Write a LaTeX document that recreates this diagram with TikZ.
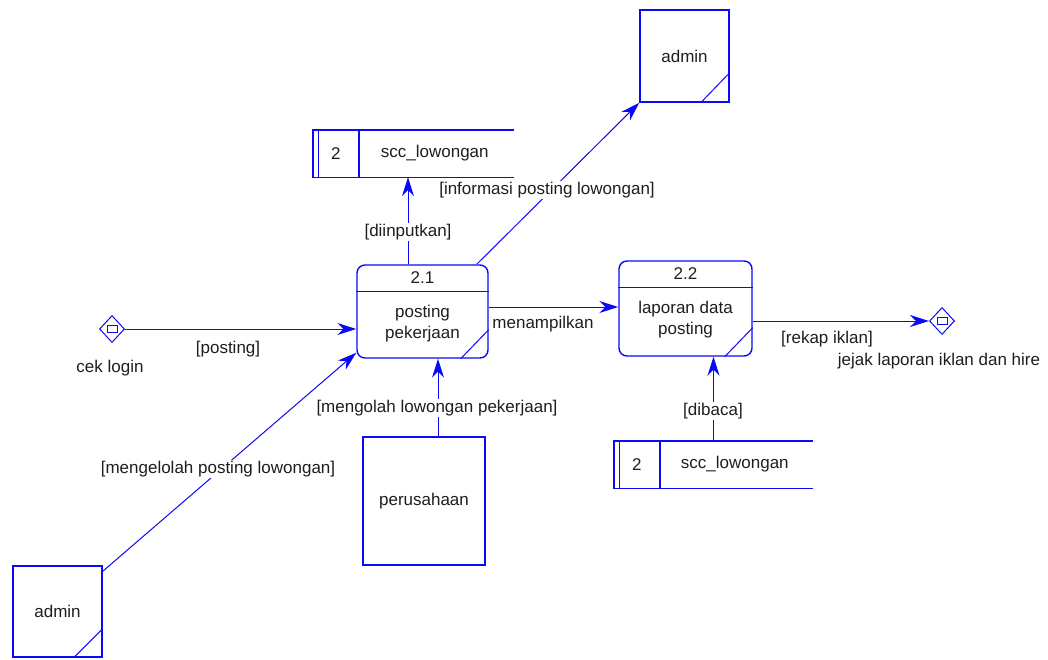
\documentclass[tikz,border=0pt]{standalone}
\usepackage{fontspec}
\setmainfont{Liberation Sans}
\usetikzlibrary{shapes.geometric,arrows.meta}
\definecolor{dfdblue}{RGB}{10,10,245}
\definecolor{dfdtext}{RGB}{30,30,30}

\begin{document}
\begin{tikzpicture}[x=1pt,y=-1pt,font=\fontsize{17}{21}\selectfont,text=dfdtext,
    entity/.style={draw=dfdblue,line width=1.4pt,inner sep=0pt},
    proc/.style={draw=dfdblue,line width=1.4pt,rounded corners=8pt,inner sep=0pt},
    border/.style={dfdblue,line width=1.4pt},
    flow/.style={dfdblue,line width=1pt,-{Stealth[length=19pt,width=12pt,inset=6pt,line width=1.2pt]}},
    lbl/.style={fill=white,inner sep=1pt},
    term/.style={diamond,draw=dfdblue,line width=1pt,minimum width=25pt,minimum height=27pt,inner sep=0pt}]
    \useasboundingbox (0,0) rectangle (1048,659);

    % entities
    \node[entity,minimum width=89pt,minimum height=92pt] (admA) at (684.5,56) {admin};
    \node[entity,minimum width=89pt,minimum height=91pt] (admB) at (57.5,611.5) {admin};
    \node[entity,minimum width=122pt,minimum height=128pt] (per) at (424,501) {perusahaan};
    \draw[border,line width=1pt] ([yshift=30pt]admA.south east) -- ([xshift=-29pt]admA.south east);
    \draw[border,line width=1pt] ([yshift=29pt]admB.south east) -- ([xshift=-29pt]admB.south east);

    % processes
    \node[proc,minimum width=131pt,minimum height=93pt] (p21) at (422.5,311.5) {};
    \node[proc,minimum width=133pt,minimum height=95pt] (p22) at (685.5,308.5) {};
    \foreach \p in {p21,p22}{
        \draw[border] ([yshift=-27pt]\p.north west) -- ([yshift=-27pt]\p.north east);
        \draw[border,line width=1pt] ([yshift=29pt]\p.south east) -- ([xshift=-28pt]\p.south east);
    }
    \node (p21id) at ([yshift=-13.5pt]p21.north) {2.1};
    \node[align=center] (p21txt) at ([yshift=-12pt]p21.center) {posting\\pekerjaan};
    \node (p22id) at ([yshift=-13.5pt]p22.north) {2.2};
    \node[align=center] (p22txt) at ([yshift=-11.5pt]p22.center) {laporan data\\posting};

    % data stores
    \node[inner sep=0pt,minimum width=201pt,minimum height=47pt] (dsA) at (413.5,153.5) {};
    \node[inner sep=0pt,minimum width=199pt,minimum height=47pt] (dsB) at (713.5,464.5) {};
    \foreach \s in {dsA,dsB}{
        \draw[border] (\s.north east) -- (\s.north west) -- (\s.south west) -- (\s.south east);
        \draw[border,line width=1pt] ([xshift=6pt]\s.north west) -- ([xshift=6pt]\s.south west);
        \draw[border] ([xshift=46pt]\s.north west) -- ([xshift=46pt]\s.south west);
    }
    \node (dsAid) at ([xshift=23pt]dsA.west) {2};
    \node (dsAtxt) at ([xshift=122pt]dsA.west) {scc\_lowongan};
    \node (dsBid) at ([xshift=23pt]dsB.west) {2};
    \node (dsBtxt) at ([xshift=121pt]dsB.west) {scc\_lowongan};

    % terminators
    \node[term] (cek) at (112,329) {};
    \node[term] (jejak) at (942,321) {};
    \draw[border,line width=1pt] (cek.center) +(-5,-3.5) rectangle +(5,3.5);
    \draw[border,line width=1pt] (jejak.center) +(-5,-3.5) rectangle +(5,3.5);
    \node (cektxt) at (110,368) {cek login};
    \node (jejaktxt) at (939,361) {jejak laporan iklan dan hire};

    % flows
    \draw[flow] (cek.east) -- (cek.east -| p21.west);
    \draw[flow] ([yshift=-6pt]admB.north east) -- ([yshift=6pt]p21.south west);
    \draw[flow] ([xshift=14pt]per.north) -- ([xshift=14pt]per.north |- p21.south);
    \draw[flow] ([xshift=-14.5pt]p21.north) -- ([xshift=-14.5pt]p21.north |- dsA.south);
    \draw[flow] ([xshift=-12pt]p21.north east) -- (admA.south west);
    \draw[flow] ([yshift=4.5pt]p21.east) -- ([yshift=4.5pt]p21.east -| p22.west);
    \draw[flow] ([yshift=-12.5pt]p22.east) -- (jejak.west);
    \draw[flow] (dsB.north) -- (dsB.north |- p22.south);

    % flow labels
    \node[lbl] (lposting) at (228,349) {[posting]};
    \node[lbl] (lkelola) at (218,469) {[mengelolah posting lowongan]};
    \node[lbl] (lolah) at (437,408) {[mengolah lowongan pekerjaan]};
    \node[lbl] (linput) at (408,232) {[diinputkan]};
    \node[lbl] (linfo) at (547,190) {[informasi posting lowongan]};
    \node[lbl] (ltampil) at (543,324) {menampilkan};
    \node[lbl] (lrekap) at (827,339) {[rekap iklan]};
    \node[lbl] (lbaca) at (713,411) {[dibaca]};
\end{tikzpicture}
\end{document}
